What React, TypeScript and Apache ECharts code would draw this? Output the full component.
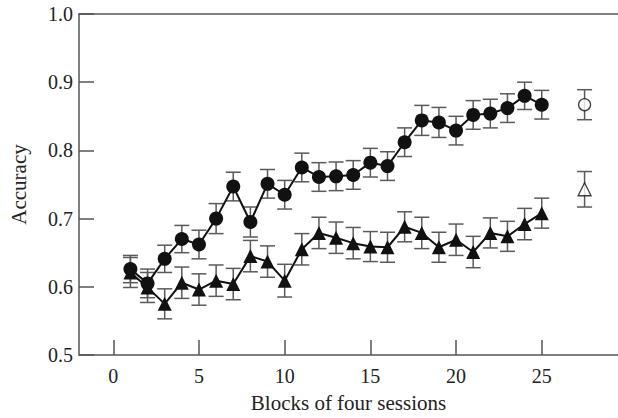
import React, { useEffect, useRef } from "react";
import * as echarts from "echarts";

const blocks = [1, 2, 3, 4, 5, 6, 7, 8, 9, 10, 11, 12, 13, 14, 15, 16, 17, 18, 19, 20, 21, 22, 23, 24, 25];
const circleMeans = [0.626, 0.605, 0.641, 0.670, 0.662, 0.700, 0.747, 0.695, 0.751, 0.735, 0.775, 0.761, 0.762, 0.764, 0.782, 0.777, 0.812, 0.844, 0.841, 0.829, 0.852, 0.854, 0.862, 0.880, 0.867];
const circleErrors = [0.020, 0.021, 0.020, 0.020, 0.021, 0.022, 0.021, 0.022, 0.021, 0.021, 0.021, 0.021, 0.021, 0.021, 0.021, 0.021, 0.021, 0.022, 0.022, 0.021, 0.021, 0.021, 0.021, 0.020, 0.021];
const triangleMeans = [0.621, 0.599, 0.575, 0.606, 0.596, 0.609, 0.604, 0.645, 0.637, 0.609, 0.655, 0.679, 0.672, 0.664, 0.659, 0.658, 0.688, 0.679, 0.658, 0.669, 0.651, 0.679, 0.674, 0.692, 0.708];
const triangleErrors = [0.022, 0.022, 0.022, 0.023, 0.023, 0.023, 0.023, 0.023, 0.023, 0.024, 0.023, 0.023, 0.023, 0.023, 0.022, 0.022, 0.022, 0.023, 0.022, 0.023, 0.023, 0.022, 0.022, 0.023, 0.022];
const openX = 27.5;
const openCircle = [0.867, 0.022];
const openTriangle = [0.743, 0.026];
const xTicks = [0, 5, 10, 15, 20, 25];

const FONT = "Liberation Serif";
const AXIS_COLOR = "#555";
const BAR_COLOR = "#5a5a5a";

export default function App() {
  const ref = useRef<HTMLDivElement>(null);
  useEffect(() => {
    if (!ref.current) return;
    const chart = echarts.init(ref.current, undefined, { renderer: "svg" });

    const circleData = blocks.map((b, i) => [b, circleMeans[i]]);
    const triData = blocks.map((b, i) => [b, triangleMeans[i]]);
    const errData = [
      ...blocks.map((b, i) => [b, circleMeans[i], circleErrors[i]]),
      ...blocks.map((b, i) => [b, triangleMeans[i], triangleErrors[i]]),
      [openX, openCircle[0], openCircle[1]],
      [openX, openTriangle[0], openTriangle[1]],
    ];

    const renderErr = (params: any, api: any) => {
      const x = api.value(0);
      const y = api.value(1);
      const e = api.value(2);
      const top = api.coord([x, y + e]);
      const bot = api.coord([x, y - e]);
      const hw = 7.5;
      const style = { stroke: BAR_COLOR, lineWidth: 1.5 };
      return {
        type: "group",
        children: [
          { type: "line", shape: { x1: top[0], y1: top[1], x2: bot[0], y2: bot[1] }, style },
          { type: "line", shape: { x1: top[0] - hw, y1: top[1], x2: top[0] + hw, y2: top[1] }, style },
          { type: "line", shape: { x1: bot[0] - hw, y1: bot[1], x2: bot[0] + hw, y2: bot[1] }, style },
        ],
      };
    };

    chart.setOption({
      animation: false,
      grid: { left: 76, right: 0, top: 14, bottom: 60 },
      xAxis: [
        {
          type: "value",
          min: -2,
          max: 29.45,
          name: "Blocks of four sessions",
          nameLocation: "middle",
          nameGap: 37,
          nameTextStyle: { fontFamily: FONT, fontSize: 21, color: "#222" },
          axisLine: { show: true, onZero: false, lineStyle: { color: AXIS_COLOR, width: 1.5 } },
          axisTick: { show: true, inside: true, length: 15, customValues: xTicks, lineStyle: { color: AXIS_COLOR, width: 1.5 } },
          axisLabel: { customValues: xTicks, fontFamily: FONT, fontSize: 20, color: "#222", margin: 11 },
          splitLine: { show: false },
        },
        {
          type: "value",
          position: "top",
          min: -2,
          max: 29.45,
          axisLine: { show: true, onZero: false, lineStyle: { color: AXIS_COLOR, width: 1.5 } },
          axisTick: { show: false },
          axisLabel: { show: false },
          splitLine: { show: false },
        },
      ],
      yAxis: {
        type: "value",
        min: 0.5,
        max: 1.0,
        interval: 0.1,
        name: "Accuracy",
        nameLocation: "middle",
        nameGap: 50,
        nameTextStyle: { fontFamily: FONT, fontSize: 21, color: "#222" },
        axisLine: { show: true, onZero: false, lineStyle: { color: AXIS_COLOR, width: 1.5 } },
        axisTick: { show: true, inside: true, length: 15, lineStyle: { color: AXIS_COLOR, width: 1.5 } },
        axisLabel: { fontFamily: FONT, fontSize: 20, color: "#222", margin: 6, formatter: (v: number) => v.toFixed(1) },
        splitLine: { show: false },
      },
      series: [
        {
          type: "custom",
          renderItem: renderErr,
          data: errData,
          z: 1,
          encode: { x: 0, y: 1 },
        },
        {
          type: "line",
          data: circleData,
          symbol: "circle",
          symbolSize: 14,
          lineStyle: { color: "#111", width: 2 },
          itemStyle: { color: "#111" },
          z: 3,
        },
        {
          type: "line",
          data: triData,
          symbol: "triangle",
          symbolSize: 14,
          lineStyle: { color: "#111", width: 2 },
          itemStyle: { color: "#111" },
          z: 3,
        },
        {
          type: "scatter",
          data: [[openX, openCircle[0]]],
          symbol: "circle",
          symbolSize: 12,
          itemStyle: { color: "#fff", borderColor: "#111", borderWidth: 1.3 },
          z: 3,
        },
        {
          type: "scatter",
          data: [[openX, openTriangle[0]]],
          symbol: "triangle",
          symbolSize: 13,
          itemStyle: { color: "#fff", borderColor: "#111", borderWidth: 1.3 },
          z: 3,
        },
      ],
    });
    return () => chart.dispose();
  }, []);
  return (
    <div
      ref={ref}
      style={{ position: "fixed", left: 0, top: 0, width: 618, height: 418, background: "#fff" }}
    />
  );
}
